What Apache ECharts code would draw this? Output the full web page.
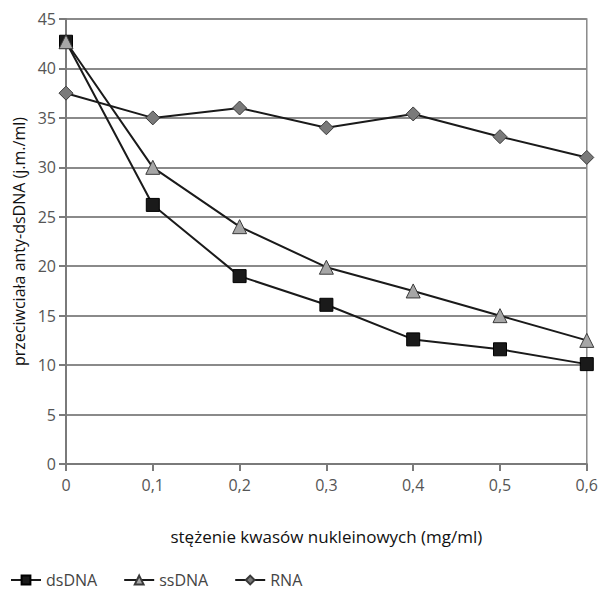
<!DOCTYPE html>
<html>
<head>
<meta charset="utf-8">
<script src="https://cdn.jsdelivr.net/npm/echarts@6/dist/echarts.min.js"></script>
<style>
  html, body { margin: 0; padding: 0; background: #fff; }
  #chart { width: 601px; height: 592px; }
</style>
</head>
<body>
<div id="chart"></div>
<script>
const concentrations = [0, 0.1, 0.2, 0.3, 0.4, 0.5, 0.6];
const dsDNA = [42.7, 26.2, 19.0, 16.1, 12.6, 11.6, 10.1];
const ssDNA = [42.7, 30.0, 24.0, 19.9, 17.5, 15.0, 12.5];
const rna = [37.5, 35.0, 36.0, 34.0, 35.4, 33.1, 31.0];

const font = 'Open Sans';
const pairs = vals => concentrations.map((c, i) => [c, vals[i]]);

const chart = echarts.init(document.getElementById('chart'), null, { renderer: 'svg' });

const lineSeries = (name, vals, symbol, size, fill, border) => ({
  name,
  type: 'line',
  data: pairs(vals),
  symbol,
  symbolSize: size,
  showAllSymbol: true,
  lineStyle: { color: '#1a1a1a', width: 2 },
  itemStyle: { color: fill, borderColor: border, borderWidth: 1 },
  emphasis: { disabled: true },
  z: 3,
});

chart.setOption({
  animation: false,
  backgroundColor: '#fff',
  textStyle: { fontFamily: font },
  grid: {
    left: 66, right: 13, top: 19, bottom: 128,
    show: true, borderColor: '#8a8a8a', borderWidth: 1.5,
  },
  legend: {
    left: 10, top: 572, padding: 0,
    itemWidth: 30, itemHeight: 11, itemGap: 26,
    textStyle: { fontFamily: font, fontSize: 16, color: '#444' },
    data: ['dsDNA', 'ssDNA', 'RNA'],
  },
  xAxis: {
    type: 'value',
    min: 0, max: 0.6, interval: 0.1,
    name: 'stężenie kwasów nukleinowych (mg/ml)',
    nameLocation: 'middle', nameGap: 64,
    nameTextStyle: { fontFamily: font, fontSize: 17, color: '#111' },
    axisLine: { lineStyle: { color: '#7a7a7a', width: 2 } },
    axisTick: { show: true, length: 7, lineStyle: { color: '#7a7a7a', width: 2 } },
    axisLabel: {
      fontFamily: font, fontSize: 16, color: '#555', margin: 13,
      formatter: v => v === 0 ? '0' : v.toFixed(1).replace('.', ','),
    },
    splitLine: { show: false },
  },
  yAxis: {
    type: 'value',
    min: 0, max: 45, interval: 5,
    name: 'przeciwciała anty-dsDNA (j.m./ml)',
    nameLocation: 'middle', nameGap: 38,
    nameTextStyle: { fontFamily: font, fontSize: 16, color: '#111' },
    axisLine: { show: true, lineStyle: { color: '#7a7a7a', width: 2 } },
    axisTick: { show: true, length: 7, lineStyle: { color: '#7a7a7a', width: 2 } },
    axisLabel: { fontFamily: font, fontSize: 16, color: '#555', margin: 10 },
    splitLine: { show: true, lineStyle: { color: '#8a8a8a', width: 2 } },
  },
  series: [
    lineSeries('dsDNA', dsDNA, 'rect', 13, '#1a1a1a', '#000'),
    lineSeries('ssDNA', ssDNA, 'triangle', 14, '#a6a6a6', '#3a3a3a'),
    lineSeries('RNA', rna, 'diamond', 14, '#7a7a7a', '#3a3a3a'),
  ],
});
</script>
</body>
</html>
